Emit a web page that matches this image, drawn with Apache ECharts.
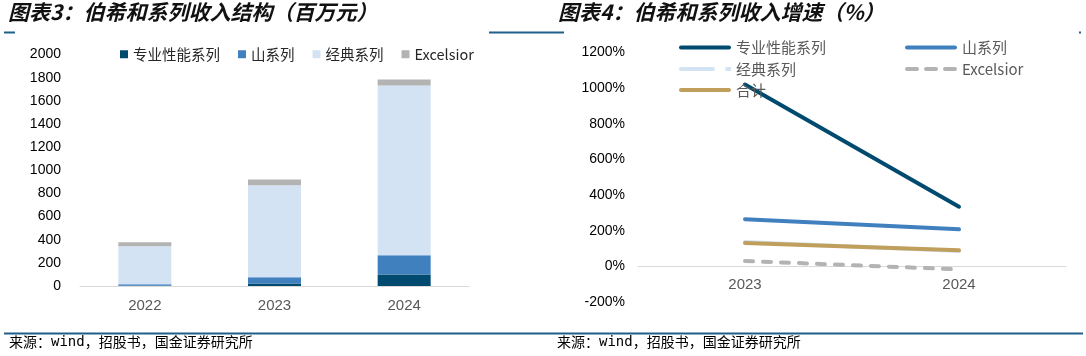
<!DOCTYPE html>
<html>
<head>
<meta charset="utf-8">
<script src="https://cdn.jsdelivr.net/npm/echarts@6/dist/echarts.min.js"></script>
<style>
html,body{margin:0;padding:0;background:#fff;}
#c{width:1086px;height:356px;}
</style>
</head>
<body>
<div id="c"></div>
<script>
// ---- Left chart: revenue structure (million yuan) ----
var categoriesL = ['2022', '2023', '2024'];
var proPerf   = [2, 22, 99];
var mountain  = [14, 53, 166];
var classic   = [328, 796, 1468];
var excelsior = [34, 49, 51];
var ticksL = { min: 0, max: 2000, interval: 200 };

// ---- Right chart: revenue growth (%) ----
var categoriesR = ['2023', '2024'];
var proPerfG   = [1020, 335];
var mountainG  = [265, 208];
var classicG   = [137, 86];
var excelsiorG = [30, -17];
var totalG     = [131, 90];
var ticksR = { min: -200, max: 1200, interval: 200 };

var names = ['专业性能系列', '山系列', '经典系列', 'Excelsior', '合计'];
var titleL = '图表3：伯希和系列收入结构（百万元）';
var titleR = '图表4：伯希和系列收入增速（%）';
var sourceA = '来源：', sourceB = 'wind', sourceC = '，招股书，国金证券研究所';

var C = {
  pro: '#004a70', mtn: '#4080bf', cls: '#d3e3f3', exc: '#b3b3b3', tot: '#c09f5c',
  line: '#1f5f8a'
};
var latin = 'Liberation Sans, Arial, sans-serif';
var cjk = '"Noto Sans CJK SC", "Liberation Sans", sans-serif';

var chart = echarts.init(document.getElementById('c'), null, {renderer: 'canvas'});

// right grid geometry
var gR = { left: 638, top: 52.5, width: 428, height: 249.5 };
var zeroOffset = gR.height * (0 - ticksR.min) / (ticksR.max - ticksR.min);

function legendR(name, color, icon, left, top) {
  return {
    data: [{ name: name, icon: icon, itemStyle: { color: color } }],
    left: left, top: top, itemWidth: 52, itemHeight: 4, itemGap: 0,
    selectedMode: false, padding: 0,
    textStyle: { color: '#595959', fontSize: 15, fontFamily: cjk }
  };
}
var solidIcon = 'path://M2,0h48a2,2 0 0 1 0,4h-48a2,2 0 0 1 0,-4z';
var dashIcon = 'path://M2,0h10a2,2 0 0 1 0,4h-10a2,2 0 0 1 0,-4z M21,0h10a2,2 0 0 1 0,4h-10a2,2 0 0 1 0,-4z M40,0h10a2,2 0 0 1 0,4h-10a2,2 0 0 1 0,-4z';
var dashDotIcon = 'path://M2,0h32a2,2 0 0 1 0,4h-32a2,2 0 0 1 0,-4z M48,0h2a2,2 0 0 1 0,4h-2a2,2 0 0 1 0,-4z M50,0h2v4h-2z';

function srcText(x) {
  return { type: 'text', left: x, top: 335, style: {
    text: '{a|' + sourceA + '}{b|' + sourceB + '}{a|' + sourceC + '}',
    rich: {
      a: { fontSize: 14, fontFamily: '"Noto Sans CJK SC", sans-serif', fill: '#000' },
      b: { fontSize: 14, fontFamily: '"DejaVu Sans Mono", monospace', fill: '#000' }
    } } };
}

var option = {
  animation: false,
  backgroundColor: '#fff',
  grid: [
    { left: 80, top: 54.5, width: 389, height: 231.5 },
    gR
  ],
  xAxis: [
    { type: 'category', gridIndex: 0, data: categoriesL,
      axisLine: { lineStyle: { color: '#d9d9d9', width: 1 } },
      axisTick: { inside: true, length: 4, lineStyle: { color: '#d9d9d9' } },
      axisLabel: { color: '#595959', fontSize: 15, fontFamily: latin, margin: 12 } },
    { type: 'category', gridIndex: 1, data: categoriesR, position: 'bottom',
      offset: -zeroOffset,
      axisLine: { onZero: false, lineStyle: { color: '#d9d9d9', width: 1 } },
      axisTick: { inside: true, length: 4, lineStyle: { color: '#d9d9d9' } },
      axisLabel: { color: '#595959', fontSize: 15, fontFamily: latin, margin: 11 } }
  ],
  yAxis: [
    { type: 'value', gridIndex: 0, min: ticksL.min, max: ticksL.max, interval: ticksL.interval,
      axisLine: { show: false }, axisTick: { show: false }, splitLine: { show: false },
      axisLabel: { color: '#000', fontSize: 14, fontFamily: latin, margin: 19,
        formatter: function (v) { return String(v); } } },
    { type: 'value', gridIndex: 1, min: ticksR.min, max: ticksR.max, interval: ticksR.interval,
      axisLine: { show: false }, axisTick: { show: false }, splitLine: { show: false },
      axisLabel: { color: '#000', fontSize: 14, fontFamily: latin, margin: 13,
        formatter: function (v) { return v + '%'; } } }
  ],
  legend: [
    { data: [
        { name: names[0], icon: 'rect', itemStyle: { color: C.pro } },
        { name: names[1], icon: 'rect', itemStyle: { color: C.mtn } },
        { name: names[2], icon: 'rect', itemStyle: { color: C.cls } },
        { name: names[3], icon: 'rect', itemStyle: { color: C.exc } }
      ],
      left: 120, top: 47, itemWidth: 8, itemHeight: 8, itemGap: 18, padding: 0,
      selectedMode: false,
      textStyle: { color: '#262626', fontSize: 14.5, fontFamily: cjk } },
    legendR(names[0], C.pro, solidIcon, 679, 40),
    legendR(names[1], C.mtn, solidIcon, 905, 40),
    legendR(names[2], C.cls, dashDotIcon, 679, 61.5),
    legendR(names[3], C.exc, dashIcon, 905, 61.5),
    legendR(names[4], C.tot, solidIcon, 679, 82.5)
  ],
  series: [
    { name: names[0], type: 'bar', stack: 'rev', xAxisIndex: 0, yAxisIndex: 0, barWidth: 53,
      data: proPerf, itemStyle: { color: C.pro } },
    { name: names[1], type: 'bar', stack: 'rev', xAxisIndex: 0, yAxisIndex: 0, barWidth: 53,
      data: mountain, itemStyle: { color: C.mtn } },
    { name: names[2], type: 'bar', stack: 'rev', xAxisIndex: 0, yAxisIndex: 0, barWidth: 53,
      data: classic, itemStyle: { color: C.cls } },
    { name: names[3], type: 'bar', stack: 'rev', xAxisIndex: 0, yAxisIndex: 0, barWidth: 53,
      data: excelsior, itemStyle: { color: C.exc } },

    { name: names[0], type: 'line', xAxisIndex: 1, yAxisIndex: 1, data: proPerfG, symbol: 'none',
      lineStyle: { color: C.pro, width: 4, cap: 'round' }, itemStyle: { color: C.pro } },
    { name: names[1], type: 'line', xAxisIndex: 1, yAxisIndex: 1, data: mountainG, symbol: 'none',
      lineStyle: { color: C.mtn, width: 4, cap: 'round' }, itemStyle: { color: C.mtn } },
    { name: names[2], type: 'line', xAxisIndex: 1, yAxisIndex: 1, data: classicG, symbol: 'none',
      lineStyle: { color: C.cls, width: 4, cap: 'round' }, itemStyle: { color: C.cls } },
    { name: names[3], type: 'line', xAxisIndex: 1, yAxisIndex: 1, data: excelsiorG, symbol: 'none',
      lineStyle: { color: C.exc, width: 4, cap: 'round', type: [8, 10] }, itemStyle: { color: C.exc } },
    { name: names[4], type: 'line', xAxisIndex: 1, yAxisIndex: 1, data: totalG, symbol: 'none',
      lineStyle: { color: C.tot, width: 4, cap: 'round' }, itemStyle: { color: C.tot } }
  ],
  graphic: [
    { type: 'text', left: 8, top: 2, style: { text: titleL, fill: '#111',
      font: 'italic bold 21px "Noto Sans CJK SC", sans-serif' } },
    { type: 'text', left: 558, top: 2, style: { text: titleR, fill: '#111',
      font: 'italic bold 21px "Noto Sans CJK SC", sans-serif' } },
    { type: 'rect', shape: { x: 4, y: 31.5, width: 11, height: 2 }, style: { fill: C.line } },
    { type: 'rect', shape: { x: 489, y: 31.5, width: 75, height: 2 }, style: { fill: C.line } },
    { type: 'rect', shape: { x: 1079, y: 31.5, width: 2, height: 2 }, style: { fill: C.line } },
    { type: 'rect', shape: { x: 4, y: 332.5, width: 1079, height: 2 }, style: { fill: C.line } },
    srcText(9),
    srcText(557)
  ]
};
chart.setOption(option);
</script>
</body>
</html>
